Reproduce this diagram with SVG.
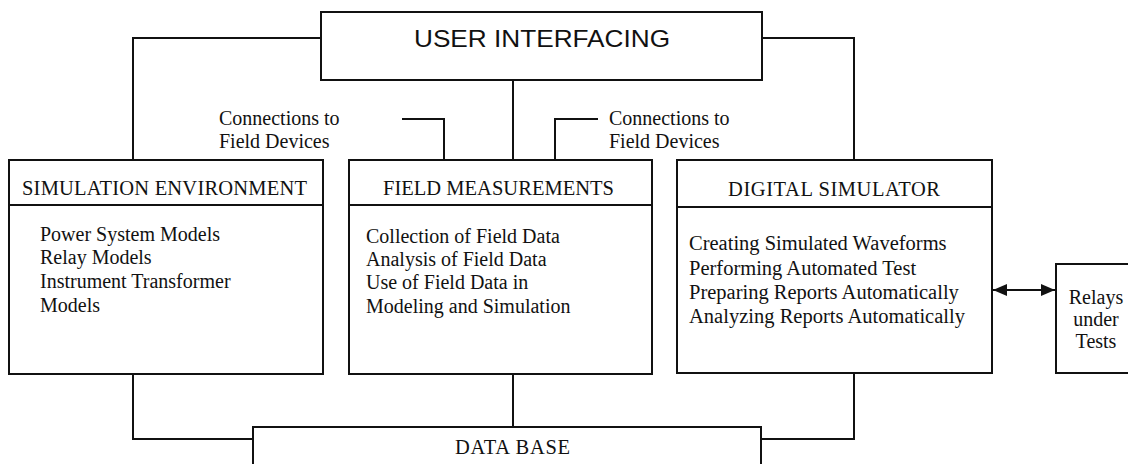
<svg xmlns="http://www.w3.org/2000/svg" width="1128" height="464" viewBox="0 0 1128 464">
  <style>
    .box { fill: #fff; stroke: #111; stroke-width: 2; }
    .rule { stroke: #111; stroke-width: 2; fill: none; }
    .wire { stroke: #111; stroke-width: 2; fill: none; }
    .head { font-family: "Liberation Serif", "Times New Roman", serif; font-size: 20.5px; fill: #111; }
    .body { font-family: "Liberation Serif", "Times New Roman", serif; font-size: 20px; fill: #111; }
    .body-wide { font-family: "Liberation Serif", "Times New Roman", serif; font-size: 20.5px; fill: #111; }
    .title { font-family: "Liberation Sans", Arial, sans-serif; font-size: 24px; fill: #111; }
  </style>
  <defs>
    <marker id="tip" viewBox="0 0 14 12" refX="14" refY="6" markerWidth="14" markerHeight="12" markerUnits="userSpaceOnUse" orient="auto-start-reverse">
      <path d="M0,0 L14,6 L0,12 Z" fill="#111"/>
    </marker>
  </defs>

  <rect width="1128" height="464" fill="#fff"/>

  <!-- connectors -->
  <g id="connectors">
    <path class="wire" d="M321,38 H133 V160"/>
    <path class="wire" d="M513,80 V160"/>
    <path class="wire" d="M762,38 H854 V160"/>
    <path class="wire" d="M402,119 H444 V160"/>
    <path class="wire" d="M555,160 V119 H598"/>
    <path class="wire" d="M133,374 V439 H253"/>
    <path class="wire" d="M513,374 V427"/>
    <path class="wire" d="M854,373 V439 H761"/>
    <path class="wire" d="M993,290 H1055" marker-start="url(#tip)" marker-end="url(#tip)"/>
  </g>

  <g id="user-interfacing">
    <rect class="box" x="321" y="12" width="441" height="68"/>
    <text class="title" x="414" y="47" textLength="256" lengthAdjust="spacingAndGlyphs">USER INTERFACING</text>
  </g>

  <g id="field-devices-left">
    <text class="body" x="219" y="125">Connections to</text>
    <text class="body" x="219" y="148">Field Devices</text>
  </g>

  <g id="field-devices-right">
    <text class="body" x="609" y="125">Connections to</text>
    <text class="body" x="609" y="148">Field Devices</text>
  </g>

  <g id="simulation-environment">
    <rect class="box" x="9" y="160" width="314" height="214"/>
    <line class="rule" x1="9" y1="205" x2="323" y2="205"/>
    <text class="head" x="22" y="195" textLength="285" lengthAdjust="spacing">SIMULATION ENVIRONMENT</text>
    <text class="body" x="40" y="241">Power System Models</text>
    <text class="body" x="40" y="264">Relay Models</text>
    <text class="body" x="40" y="288">Instrument Transformer</text>
    <text class="body" x="40" y="312">Models</text>
  </g>

  <g id="field-measurements">
    <rect class="box" x="349" y="160" width="303" height="214"/>
    <line class="rule" x1="349" y1="205" x2="652" y2="205"/>
    <text class="head" x="383" y="195" textLength="231" lengthAdjust="spacing">FIELD MEASUREMENTS</text>
    <text class="body" x="366" y="243">Collection of Field Data</text>
    <text class="body" x="366" y="266">Analysis of Field Data</text>
    <text class="body" x="366" y="289">Use of Field Data in</text>
    <text class="body" x="366" y="313">Modeling and Simulation</text>
  </g>

  <g id="digital-simulator">
    <rect class="box" x="677" y="160" width="315" height="213"/>
    <line class="rule" x1="677" y1="207" x2="992" y2="207"/>
    <text class="head" x="728" y="196" textLength="212" lengthAdjust="spacing">DIGITAL SIMULATOR</text>
    <text class="body-wide" x="689" y="250">Creating Simulated Waveforms</text>
    <text class="body-wide" x="689" y="275">Performing Automated Test</text>
    <text class="body-wide" x="689" y="299">Preparing Reports Automatically</text>
    <text class="body-wide" x="689" y="323" textLength="276" lengthAdjust="spacing">Analyzing Reports Automatically</text>
  </g>

  <g id="relays-under-tests">
    <rect class="box" x="1056" y="264" width="90" height="109"/>
    <text class="body" x="1096" y="304" text-anchor="middle">Relays</text>
    <text class="body" x="1096" y="326" text-anchor="middle">under</text>
    <text class="body" x="1096" y="348" text-anchor="middle">Tests</text>
  </g>

  <g id="data-base">
    <rect class="box" x="253" y="427" width="508" height="50"/>
    <text class="head" x="455" y="454" textLength="115" lengthAdjust="spacing">DATA BASE</text>
  </g>
</svg>
